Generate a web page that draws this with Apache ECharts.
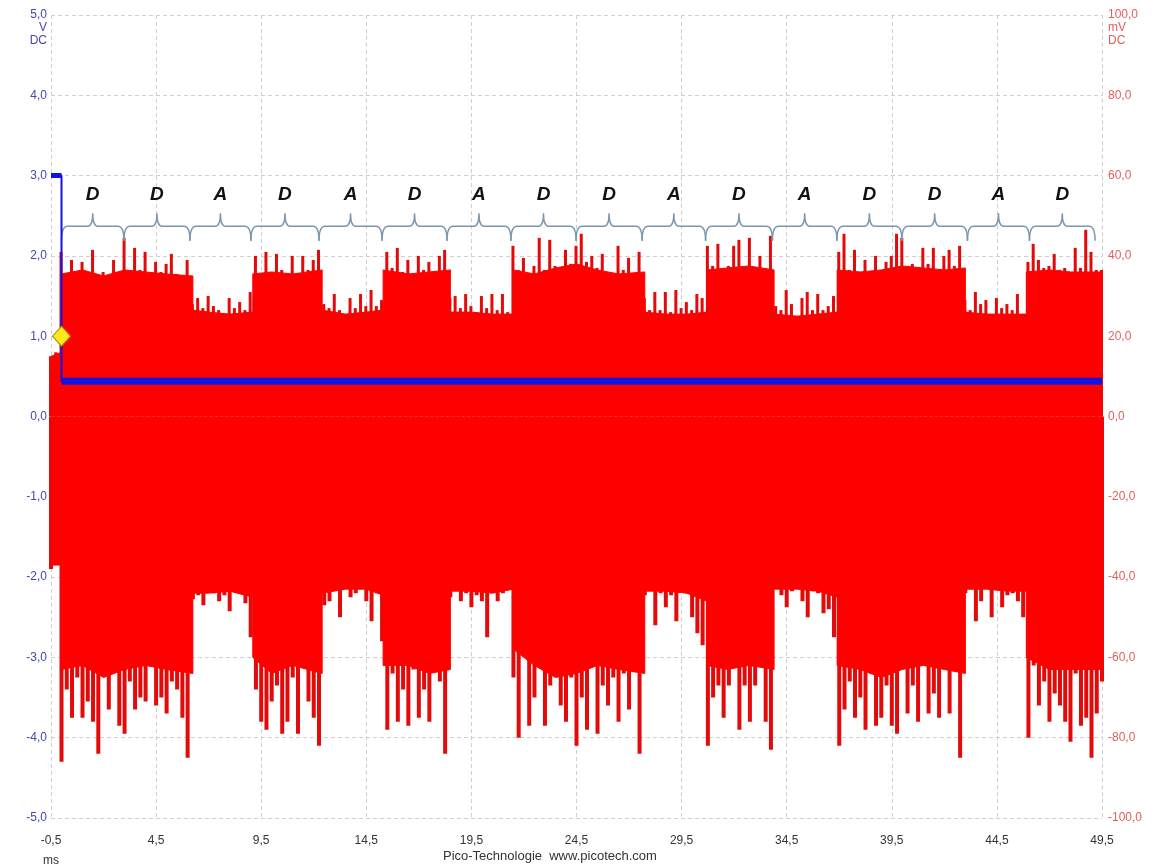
<!DOCTYPE html>
<html lang="en">
<head>
    <meta charset="UTF-8">
    <title>Pico scope capture</title>
    <script src="https://cdn.jsdelivr.net/npm/echarts@6/dist/echarts.min.js"></script>
    <style>
        html, body { margin: 0; padding: 0; background: #fff; }
        #chartmain { width: 1175px; height: 865px; }
    </style>
</head>
<body>
<div id="chartmain"></div>
<script type="text/javascript">
    // red trace: solid body of the signal (breakpoints in ms, levels in mV)
    var baseTimes = [-0.5, 0,
        0, 1, 2, 3, 4, 5, 6.25,
        6.25, 7, 8, 9.1,
        9.1, 10, 11, 12.4,
        12.4, 13.5, 14.5, 15.3,
        15.3, 16.5, 17.5, 18.5,
        18.5, 19.5, 20.5, 21.5,
        21.5, 22.5, 23.5, 24.5, 25.5, 26.5, 27.75,
        27.75, 28.75, 29.75, 30.7,
        30.7, 31.7, 32.7, 33.9,
        33.9, 35, 36, 36.9,
        36.9, 38, 39, 40, 41, 42, 43.0,
        43.0, 44, 45, 45.9,
        45.9, 47, 48, 49.5];
    var baseUpper = [15, 16,
        35.5, 36.5, 35, 36.5, 36, 35.5, 35,
        26.5, 26, 25.5, 26,
        35.5, 36, 35.5, 36.5,
        26.5, 25.5, 26, 26.5,
        36.5, 35.5, 36, 36.5,
        26, 26, 25.5, 25.5,
        36.5, 35.5, 37, 38, 36.5, 35.5, 36,
        26, 25.5, 25.5, 26,
        36.5, 37, 37.5, 36.5,
        25.5, 25, 25.5, 26,
        36.5, 36, 36.5, 37.5, 37, 36.5, 37,
        26, 25.5, 25.5, 25.5,
        36, 36.5, 36, 36];
    var baseLower = [-37, -37,
        -63, -62, -65, -63, -62, -63, -64,
        -44, -44, -43.5, -45,
        -60, -64, -62, -64,
        -44, -43, -43, -44.5,
        -62, -62, -64, -63,
        -43.5, -43.5, -44, -43,
        -58, -62, -65, -64, -62, -63, -64,
        -43.5, -43.5, -44, -46,
        -62, -63, -62, -63,
        -43, -43, -43.5, -45,
        -62, -63, -65, -63, -62, -63, -64,
        -43, -43, -43.5, -43.5,
        -60, -63, -63, -63];

    // red trace: noise peaks, one every 0.25 ms from -0.5 ms (mV)
    var sampleStart = -0.5;
    var sampleStep = 0.25;
    var upperMv = [15, 16,
        41, 35.5, 39, 35, 38.5, 35, 41.5, 35.5, 36, 34.5, 39, 36, 44.5, 36, 42, 36.5, 41, 35.5, 38.5, 36, 38, 40.5, 35.5, 35, 39,
        28, 29.5, 27, 30, 27.5, 26.5, 25.5, 29.5, 27, 28.5, 26.5, 31,
        40, 35.5, 41, 36, 40.5, 36.5, 35, 40, 35.5, 40, 36.5, 39, 41.5,
        28, 27, 30.5, 26.5, 25.5, 29.5, 27, 30.5, 27.5, 31.5, 27.5, 29,
        41, 37, 42, 36, 39, 35.5, 40, 36.5, 38.5, 35.5, 40, 41.5,
        29.5, 30, 27, 30.5, 27.5, 26, 30, 27, 30.5, 26.5, 30.5, 26,
        42.5, 36.5, 39.5, 35.5, 37.5, 44.5, 36.5, 44, 37.5, 36, 41.5, 38, 42.5, 45.5, 38.5, 40, 37, 40.5, 35.5, 35, 42.5, 36.5, 39.5, 35.5, 41,
        29.5, 26.5, 31, 26.5, 31, 26, 31.5, 27, 28.5, 26.5, 30.5, 29.5,
        42.5, 37.5, 43, 36, 37.5, 42.5, 44, 37, 44.5, 36.5, 40, 37, 45,
        27.5, 26.5, 31.5, 28, 25, 29.5, 31, 26.5, 30.5, 26.5, 27.5, 30,
        41, 45.5, 36.5, 41.5, 36, 39, 35.5, 40, 36, 38.5, 40, 45.5, 44.5, 36.5, 38, 36, 42, 38, 42, 36.5, 40, 41.5, 37.5, 42.5,
        29, 26.5, 31, 28, 29, 24.5, 29.5, 27, 28, 26.5, 30.5, 25.5,
        38.5, 43, 39, 37, 37.5, 40.5, 36.5, 37, 36, 42, 37, 46.5, 41, 36.5, 36.5];
    var lowerMv = [-38, -37,
        -86, -68, -75, -65, -75, -71, -76, -84, -60, -73, -60, -77, -79, -66, -73, -70, -71, -62, -72, -70, -74, -66, -68, -75, -85,
        -45.5, -44.5, -47, -42, -44, -46, -44.5, -48.5, -43, -42, -46.5, -55,
        -68, -76, -78, -71, -67, -79, -76, -65, -79, -58, -71, -75, -82,
        -47, -46, -43, -50, -40.5, -45, -44, -40, -46, -51, -44, -56,
        -78, -64, -76, -68, -77, -63, -75, -68, -76, -52, -66, -84,
        -45, -42.5, -46, -44, -47.5, -44.5, -46, -55, -41, -46, -44, -42.5,
        -65, -80, -58, -77, -70, -60, -77, -67, -61, -72, -76, -65, -82, -70, -78, -61, -79, -67, -72, -65, -76, -64, -73, -57, -84,
        -44.5, -43, -52, -44, -47.5, -44.5, -51, -43, -44, -50, -54, -57,
        -82, -70, -67, -75, -67, -62, -78, -67, -76, -67, -60, -76, -83,
        -41, -44.5, -47.5, -43.5, -41.5, -46, -50, -43.5, -44, -49, -48, -55,
        -82, -73, -66, -75, -70, -78, -64, -77, -75, -67, -77, -79, -56, -74, -67, -76, -57, -74, -69, -75, -58, -74, -60, -85,
        -44, -43, -51, -46, -42.5, -50, -42, -47.5, -44.5, -44, -46, -50,
        -80, -62, -72, -66, -76, -69, -72, -76, -81, -64, -77, -75, -85, -74, -66];

    // blue trace (V)
    var blueTimes = [-0.5, 0, 0, 49.5];
    var blueVolts = [3.0, 3.0, 0.44, 0.44];

    // trigger marker
    var triggerPoint = [0, 1.0];

    // frame brackets over the trace
    var segBounds = [0, 2.97, 6.11, 9.01, 12.25, 15.25, 18.34, 21.38, 24.48, 27.62, 30.64, 33.82, 36.89, 39.98, 43.10, 46.05, 49.17];
    var segLabels = ['D', 'D', 'A', 'D', 'A', 'D', 'A', 'D', 'D', 'A', 'D', 'A', 'D', 'D', 'A', 'D'];

    // axis ranges
    var xMin = -0.5, xMax = 49.5, xStep = 5;
    var vMin = -5, vMax = 5, vStep = 1;
    var mvMin = -100, mvMax = 100, mvStep = 20;

    var baseUpperData = baseTimes.map(function (t, i) { return [t, baseUpper[i]]; });
    var baseLowerData = baseTimes.map(function (t, i) { return [t, baseLower[i]]; });
    var upperData = upperMv.map(function (v, i) { return [sampleStart + i * sampleStep, v]; });
    var lowerData = lowerMv.map(function (v, i) { return [sampleStart + i * sampleStep, v]; });
    var blueData = blueTimes.map(function (t, i) { return [t, blueVolts[i]]; });
    var segData = segLabels.map(function (l, i) { return [segBounds[i], segBounds[i + 1]]; });

    function comma(v) {
        return v.toFixed(1).replace('.', ',');
    }

    var gridLine = { show: true, lineStyle: { color: '#cfcfcf', type: [4, 3], width: 1 } };
    var font = '"Liberation Sans", Arial, sans-serif';

    function bodySeries(name, data) {
        return {
            name: name,
            type: 'line',
            yAxisIndex: 1,
            data: data,
            showSymbol: false,
            lineStyle: { color: '#ff0000', width: 1 },
            areaStyle: { color: '#ff0000', opacity: 1 },
            z: 3
        };
    }

    function needleSeries(name, data, w) {
        return {
            name: name,
            type: 'bar',
            yAxisIndex: 1,
            data: data,
            barWidth: w,
            barGap: '-100%',
            itemStyle: { color: '#e40a0a' },
            z: 2
        };
    }

    var myChart = echarts.init(document.getElementById('chartmain'));
    var option = {
        animation: false,
        backgroundColor: '#ffffff',
        grid: { left: 51, right: 73, top: 15, bottom: 47, containLabel: false, outerBoundsMode: 'none' },
        xAxis: {
            type: 'value',
            min: xMin, max: xMax, interval: xStep,
            axisLine: { show: false },
            axisTick: { show: false },
            splitLine: gridLine,
            axisLabel: {
                margin: 13,
                color: '#333',
                fontFamily: font,
                fontSize: 12,
                lineHeight: 20,
                formatter: function (v) {
                    return v === xMin ? comma(v) + '\nms' : comma(v);
                }
            }
        },
        yAxis: [{
            type: 'value',
            min: vMin, max: vMax, interval: vStep,
            axisLine: { show: false },
            axisTick: { show: false },
            splitLine: gridLine,
            axisLabel: {
                margin: 4,
                color: '#4646b0',
                fontFamily: font,
                fontSize: 12,
                lineHeight: 13,
                formatter: function (v) {
                    return v === vMax ? '\n\n' + comma(v) + '\nV\nDC' : comma(v);
                }
            }
        }, {
            type: 'value',
            position: 'right',
            min: mvMin, max: mvMax, interval: mvStep,
            axisLine: { show: false },
            axisTick: { show: false },
            splitLine: { show: false },
            axisLabel: {
                margin: 6,
                color: '#e0605c',
                fontFamily: font,
                fontSize: 12,
                lineHeight: 13,
                formatter: function (v) {
                    return v === mvMax ? '\n\n' + comma(v) + '\nmV\nDC' : comma(v);
                }
            }
        }],
        graphic: [{
            type: 'text',
            left: 443,
            top: 850,
            style: {
                text: 'Pico-Technologie  www.picotech.com',
                font: '13px ' + font,
                fill: '#333'
            }
        }],
        series: [
            needleSeries('upper peaks', upperData, 3),
            needleSeries('lower peaks', lowerData, 4),
            bodySeries('upper body', baseUpperData),
            bodySeries('lower body', baseLowerData),
            {
                name: 'frames',
                type: 'custom',
                yAxisIndex: 0,
                data: segData,
                encode: { x: [0, 1] },
                z: 4,
                renderItem: function (params, api) {
                    var x0 = api.coord([api.value(0), 0])[0];
                    var x1 = api.coord([api.value(1), 0])[0];
                    var xm = (x0 + x1) / 2;
                    var yLine = api.coord([0, 2.37])[1];
                    var yTip = api.coord([0, 2.19])[1];
                    var yPeak = api.coord([0, 2.53])[1];
                    var yText = api.coord([0, 2.76])[1];
                    var d = 'M' + x0 + ' ' + yTip +
                        ' Q' + x0 + ' ' + yLine + ' ' + (x0 + 6) + ' ' + yLine +
                        ' L' + (xm - 5) + ' ' + yLine +
                        ' Q' + xm + ' ' + yLine + ' ' + xm + ' ' + yPeak +
                        ' Q' + xm + ' ' + yLine + ' ' + (xm + 5) + ' ' + yLine +
                        ' L' + (x1 - 6) + ' ' + yLine +
                        ' Q' + x1 + ' ' + yLine + ' ' + x1 + ' ' + yTip;
                    return {
                        type: 'group',
                        children: [{
                            type: 'path',
                            shape: { pathData: d },
                            style: { fill: null, stroke: '#7c96ae', lineWidth: 1.5 }
                        }, {
                            type: 'text',
                            style: {
                                text: segLabels[params.dataIndex],
                                x: xm, y: yText,
                                align: 'center', verticalAlign: 'middle',
                                font: 'italic bold 19px ' + font,
                                fill: '#111'
                            }
                        }]
                    };
                }
            }, {
                name: 'blue',
                type: 'line',
                yAxisIndex: 0,
                data: blueData,
                showSymbol: false,
                lineStyle: { color: '#1414e0', width: 2 },
                z: 5
            }, {
                name: 'blue pre',
                type: 'line',
                yAxisIndex: 0,
                data: blueData.slice(0, 2),
                showSymbol: false,
                lineStyle: { color: '#1414e0', width: 5 },
                z: 5
            }, {
                name: 'blue post',
                type: 'line',
                yAxisIndex: 0,
                data: blueData.slice(2),
                showSymbol: false,
                lineStyle: { color: '#1414e0', width: 7 },
                z: 5
            }, {
                name: 'trigger',
                type: 'scatter',
                yAxisIndex: 0,
                data: [triggerPoint],
                symbol: 'diamond',
                symbolSize: [18, 20],
                itemStyle: { color: '#ffe81a', borderColor: '#9a8a00', borderWidth: 1, opacity: 1 },
                z: 6
            }
        ]
    };
    myChart.setOption(option);
</script>
</body>
</html>
